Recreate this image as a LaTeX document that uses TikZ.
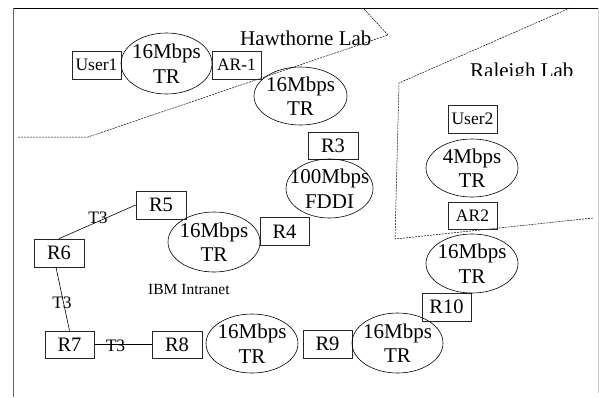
\documentclass[tikz,border=0pt]{standalone}
\usepackage{fontspec}
\setmainfont{Liberation Serif}
\usetikzlibrary{shapes.geometric}
\begin{document}
\begin{tikzpicture}[x=1pt,y=-1pt,
  rbox/.style={draw=black!85, line width=0.7pt, minimum width=49pt, minimum height=28pt, inner sep=0pt, font=\fontsize{20.5}{24}\selectfont},
  ubox/.style={rbox, font=\fontsize{17.5}{20}\selectfont},
  ring/.style={draw, ellipse, line width=0.6pt, inner sep=-12pt, minimum width=92pt, minimum height=59pt, align=center, font=\fontsize{21}{24.5}\selectfont},
  zone/.style={line width=0.5pt, dash pattern=on 2pt off 1pt},
  link/.style={line width=0.6pt},
  tlabel/.style={font=\fontsize{17.5}{20}\selectfont, inner sep=0pt},
  lablabel/.style={anchor=base west, inner sep=0pt, font=\fontsize{21}{24}\selectfont}
]
\useasboundingbox (0,0) rectangle (599,397);
% frame
\draw[line width=0.8pt] (13,8) -- (599,8);
\draw[line width=0.8pt, black!60] (13,8) -- (13,397);
\draw[line width=0.8pt, black!20] (598,8) -- (598,393);
% zones
\draw[zone] (18,137) -- (88,137) -- (388,35) -- (363,8);
\draw[zone] (570,8) -- (399,83) -- (395,239) -- (593,218);
% nodes
\node[ubox] (user1) at (96.5,65) {User1};
\node[ring, minimum width=91pt, minimum height=61pt] (e1) at (166.5,63.5) {16Mbps\\TR};
\node[ubox] (ar1) at (236.5,65) {AR-1};
\node[ring, minimum width=93pt, minimum height=58pt] (e2) at (300.5,96) {16Mbps\\TR};
\node[rbox, minimum width=50pt, minimum height=27pt] (r3) at (333,145.5) {R3};
\node[ring, minimum width=87pt] (fddi) at (329.5,188.5) {100Mbps\\FDDI};
\node[rbox] (r4) at (284.5,231.5) {R4};
\node[ring, minimum width=92pt, minimum height=60pt] (e3) at (214,242) {16Mbps\\TR};
\node[rbox, minimum width=50pt] (r5) at (161,205) {R5};
\node[rbox, minimum width=50pt] (r6) at (59,253) {R6};
\node[rbox, minimum height=27pt] (r7) at (69.5,344.5) {R7};
\node[rbox, minimum width=50pt, minimum height=27pt] (r8) at (177,344.5) {R8};
\node[ring] (e4) at (252,343.5) {16Mbps\\TR};
\node[rbox] (r9) at (327.5,344) {R9};
\node[ring, minimum width=91pt, minimum height=60pt] (e5) at (397.5,343) {16Mbps\\TR};
\node[rbox] (r10) at (446.5,307) {R10};
\node[ring] (e6) at (472,263.5) {16Mbps\\TR};
\node[ubox, minimum height=27pt] (ar2) at (472.5,215.5) {AR2};
\node[ring, minimum height=58pt] (e7) at (472,168) {4Mbps\\TR};
\node[ubox] (user2) at (472.5,119) {User2};
% labels
\node[lablabel] (hawthorne) at (240,45) {Hawthorne Lab};
\begin{scope}
\clip (460,40) rectangle (590,75.8);
\node[lablabel] (raleigh) at (470,77) {Raleigh Lab};
\end{scope}
\node[anchor=base west, inner sep=0pt, font=\fontsize{15.5}{18}\selectfont] (ibm) at (148,294) {IBM Intranet};
% links
\draw[link] (r6.north) -- (r5.west);
\draw[link] ([xshift=-3pt]r6.south) -- (r7.north);
\draw[link] (r7.east) -- (r8.west);
\node[tlabel] (t1) at (98,217.5) {T3};
\node[tlabel] (t2) at (62,303) {T3};
\node[tlabel] (t3) at (115.5,346) {T3};
\end{tikzpicture}
\end{document}
